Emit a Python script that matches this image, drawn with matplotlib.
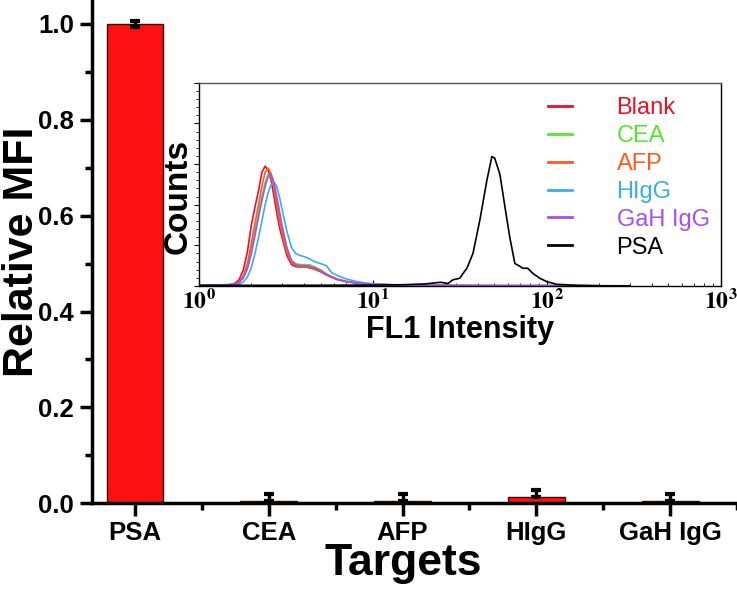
import matplotlib
matplotlib.use("Agg")
import matplotlib.pyplot as plt
from matplotlib.ticker import MultipleLocator, LogLocator, NullFormatter

plt.rcParams['font.family'] = ['Liberation Sans', 'DejaVu Sans']
plt.rcParams['mathtext.fontset'] = 'stix'

# main bar chart data
targets = ["PSA", "CEA", "AFP", "HIgG", "GaH IgG"]
rel_mfi = [1.0, 0.005, 0.005, 0.012, 0.005]
err_low = [0.006, 0.0, 0.0, 0.0, 0.0]
err_up = [0.006, 0.015, 0.015, 0.015, 0.015]

# inset flow cytometry histograms
fl_x = [1.0, 1.3, 1.5, 1.6, 1.7, 1.8, 1.9, 2.0, 2.1, 2.2, 2.3, 2.4, 2.5, 2.6, 2.7,
        2.8, 2.9, 3.0, 3.2, 3.4, 3.6, 3.8, 4.0, 4.3, 4.6, 5.0, 5.4, 5.8, 6.3, 7.0,
        8.0, 9.0, 10, 12, 15, 20, 30, 50, 100, 200]
blank = [0.2, 0.3, 0.6, 1.2, 3, 8, 17, 30, 39, 47, 56, 59, 57, 52, 44,
         36, 29, 24, 15, 10.5, 9.5, 9.3, 9.4, 9, 8.3, 7, 5.4, 4.2, 3, 2.1,
         1.4, 1.0, 0.8, 0.6, 0.4, 0.3, 0.2, 0.1, 0.1, 0.05]
cea = [0.2, 0.3, 0.5, 0.8, 1.8, 4.5, 9.5, 18, 27, 36, 44, 51, 55, 54, 49,
       42, 35, 28, 18, 12.5, 11, 10.5, 10.5, 10.5, 9.5, 8, 6, 4.5, 3.3, 2.3,
       1.6, 1.1, 0.8, 0.6, 0.4, 0.3, 0.2, 0.1, 0.1, 0.05]
afp = [0.2, 0.2, 0.4, 0.8, 2, 5, 11, 21, 31, 40, 49, 56, 58, 55, 48,
       40, 32, 26, 16.5, 11.5, 10, 9.5, 9.5, 9.2, 8.5, 7.3, 5.6, 4.4, 3.2, 2.2,
       1.5, 1.1, 0.8, 0.6, 0.4, 0.3, 0.2, 0.1, 0.1, 0.05]
higg = [0.1, 0.2, 0.3, 0.4, 0.8, 2, 4.5, 9, 16, 24, 32, 40, 46, 50, 51,
        49, 44, 38, 27, 19, 16, 15, 14.5, 13.5, 12, 11, 10, 6.5, 5, 3.5,
        2.2, 1.5, 1.1, 0.7, 0.5, 0.3, 0.2, 0.1, 0.1, 0.05]
gah_igg = [0.3, 0.5, 0.7, 1, 1.6, 4, 8.5, 16, 25, 34, 42, 49, 54, 55, 51,
           44, 37, 30, 19, 12.5, 10.5, 10, 10, 9.8, 9, 7.6, 5.8, 4.4, 3.2, 2.2,
           1.5, 1.1, 0.8, 0.6, 0.4, 0.3, 0.2, 0.2, 0.2, 0.1]

psa_x = [1.0, 3, 10, 15, 20, 24.5, 27, 28.8, 31.6, 33, 34.7, 37.6, 41.2, 45.2, 48.3,
         50.1, 53.7, 57.4, 61.2, 65.5, 68, 72.8, 77.6, 83, 91, 100, 114, 150, 200, 300]
psa = [0.3, 0.3, 0.4, 0.6, 1.0, 1.8, 1.2, 3, 3.8, 6.2, 8.7, 16, 32.5, 52, 63.7,
       63, 55, 39, 24, 11, 10.3, 8.7, 8.7, 6.2, 3.8, 2.1, 0.8, 0.3, 0.1, 0.05]

series = [("Blank", blank, "#e8112d"), ("CEA", cea, "#52e82a"), ("AFP", afp, "#ff5a1a"),
          ("HIgG", higg, "#3aaee8"), ("GaH IgG", gah_igg, "#a64ff0")]

fig = plt.figure(figsize=(7.37, 5.92), dpi=100)

# ---- main bar chart ----
ax = fig.add_axes([0.125, 0.150, 0.875, 0.850])
pos = list(range(len(targets)))
ax.bar(pos, rel_mfi, width=0.425, color="#ff1010", edgecolor="#3a0a0a", linewidth=1, zorder=2)
ax.errorbar(pos, rel_mfi, yerr=[err_low, err_up], fmt="none", ecolor="black",
            elinewidth=2.5, capsize=3.5, capthick=3, zorder=3)
ax.set_xlim(-0.32, 4.49)
ax.set_xticks(pos)
ax.set_xticklabels(targets, fontsize=18.5, fontweight="bold")
ax.set_xticks([p + 0.5 for p in pos], minor=True)
ax.yaxis.set_minor_locator(MultipleLocator(0.1))
ax.set_ylim(0, 1.05)
ax.set_yticks([0.0, 0.2, 0.4, 0.6, 0.8, 1.0])
ax.set_yticklabels(["0.0", "0.2", "0.4", "0.6", "0.8", "1.0"], fontsize=18.5, fontweight="bold")
ax.tick_params(which="major", direction="out", length=9, width=2.5, pad=4)
ax.tick_params(which="minor", direction="out", length=5, width=2.5)
for s in ["top", "right"]:
    ax.spines[s].set_visible(False)
for s in ["left", "bottom"]:
    ax.spines[s].set_linewidth(2.5)
ax.set_ylabel("Relative MFI", fontsize=31, fontweight="bold")
ax.yaxis.set_label_coords(-0.078, 0.50)
ax.set_xlabel("Targets", fontsize=32, fontweight="bold")
ax.xaxis.set_label_coords(0.482, -0.080)

# ---- inset histogram ----
ins = fig.add_axes([0.270, 0.517, 0.708, 0.343])
for name, ys, col in series:
    ins.plot(fl_x, ys, color=col, lw=1.2, label=name)
ins.plot(psa_x, psa, color="black", lw=1.2, label="PSA")
ins.set_xscale("log")
ins.set_xlim(1, 1000)
ins.set_ylim(0, 100)
ins.set_xticks([1, 10, 100, 1000])
ins.set_xticklabels([r"$\mathbf{10^{0}}$", r"$\mathbf{10^{1}}$", r"$\mathbf{10^{2}}$", r"$\mathbf{10^{3}}$"],
                    fontsize=17)
ins.xaxis.set_minor_locator(LogLocator(base=10, subs=range(2, 10)))
ins.xaxis.set_minor_formatter(NullFormatter())
ins.yaxis.set_major_locator(MultipleLocator(20))
ins.yaxis.set_minor_locator(MultipleLocator(4))
ins.yaxis.set_major_formatter(NullFormatter())
ins.tick_params(axis="x", which="major", direction="in", length=4, width=0.8, pad=2)
ins.tick_params(axis="x", which="minor", direction="in", length=2.5, width=0.6)
ins.tick_params(axis="y", which="major", direction="out", length=3.5, width=0.8)
ins.tick_params(axis="y", which="minor", direction="out", length=2, width=0.6)
for s in ins.spines.values():
    s.set_linewidth(1.0)
ins.spines["top"].set_color("#555555")
ins.set_ylabel("Counts", fontsize=24, fontweight="bold")
ins.yaxis.set_label_coords(-0.010, 0.44)
ins.set_xlabel("FL1 Intensity", fontsize=22, fontweight="bold", labelpad=2)
leg = ins.legend(loc="upper left", bbox_to_anchor=(0.669, 0.93), frameon=False, fontsize=17,
                 handlelength=1.0, handletextpad=1.9, labelspacing=0.25, borderpad=0,
                 borderaxespad=0, labelcolor="linecolor")
for ln in leg.get_lines():
    ln.set_linewidth(2.0)

fig.savefig("out.png", dpi=100)
